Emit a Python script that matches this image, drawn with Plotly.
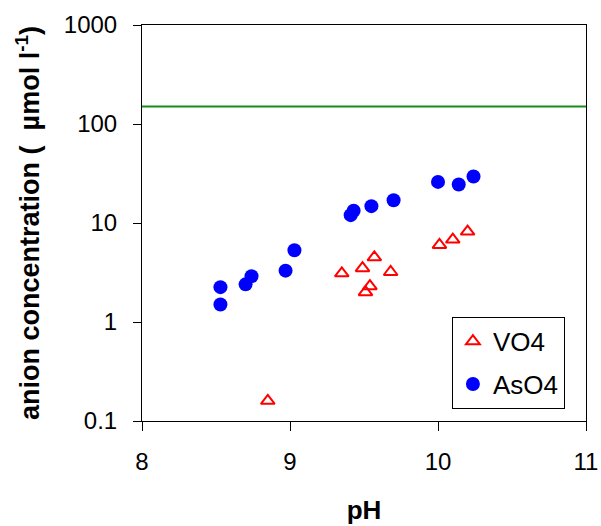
import plotly.graph_objects as go

# VO4 data (pH, concentration µmol/l)
vo4_ph = [8.85, 9.35, 9.49, 9.51, 9.54, 9.57, 9.68, 10.01, 10.10, 10.20]
vo4_conc = [0.16, 3.1, 3.5, 2.0, 2.3, 4.5, 3.2, 6.0, 6.8, 8.2]

# AsO4 data
aso4_ph = [8.53, 8.53, 8.70, 8.74, 8.97, 9.03, 9.41, 9.43, 9.55, 9.70, 10.00, 10.14, 10.24]
aso4_conc = [2.25, 1.5, 2.4, 2.9, 3.3, 5.3, 12.0, 13.3, 14.8, 17.0, 26.0, 24.5, 29.5]

# horizontal limit line
limit_ph = [8, 11]
limit_value = [150, 150]

x_ticks = [8, 9, 10, 11]
y_ticks = [0.1, 1, 10, 100, 1000]
y_ticklabels = ["0.1", "1", "10", "100", "1000"]

fig = go.Figure()
fig.add_trace(go.Scatter(
    x=limit_ph, y=limit_value, mode="lines",
    line=dict(color="#1a8c1a", width=2), showlegend=False, hoverinfo="skip"))
fig.add_trace(go.Scatter(
    x=vo4_ph, y=vo4_conc, mode="markers", name="VO4", legendgroup="a",
    marker=dict(symbol="triangle-up-open", size=12, color="#ff0000",
                line=dict(color="#ff0000", width=2))))
fig.add_trace(go.Scatter(
    x=aso4_ph, y=aso4_conc, mode="markers", name="AsO4", legendgroup="b",
    marker=dict(symbol="circle", size=14, color="#0000ff")))

font_family = "Liberation Sans, Arial, sans-serif"

fig.update_layout(
    width=601, height=526,
    margin=dict(l=142, r=15, t=25, b=105),
    paper_bgcolor="white", plot_bgcolor="white",
    font=dict(family=font_family, color="black"),
    legend=dict(
        x=0.698, y=0.263, xanchor="left", yanchor="top",
        bgcolor="white", bordercolor="black", borderwidth=1,
        font=dict(size=26, family=font_family),
        traceorder="grouped", tracegroupgap=6,
    ),
    xaxis=dict(
        range=[8, 11], tickvals=x_ticks, ticks="outside", ticklen=9,
        tickcolor="black", showline=True, linecolor="black", linewidth=1,
        mirror=True, showgrid=False, zeroline=False, automargin=False,
        tickfont=dict(size=24), ticklabelstandoff=10,
        title=dict(text="<b>pH</b>", font=dict(size=26), standoff=27),
    ),
    yaxis=dict(
        type="log", range=[-1, 3], tickvals=y_ticks, ticktext=y_ticklabels,
        ticks="outside", ticklen=8, tickcolor="black",
        showline=True, linecolor="black", linewidth=1, mirror=True,
        showgrid=False, zeroline=False, automargin=False,
        tickfont=dict(size=24), ticklabelstandoff=11,
        title=dict(text="<b>anion concentration (\u00a0 \u00b5mol l<sup>-1</sup>)</b>",
                   font=dict(size=27), standoff=16),
    ),
)

fig.write_html("out.html")
